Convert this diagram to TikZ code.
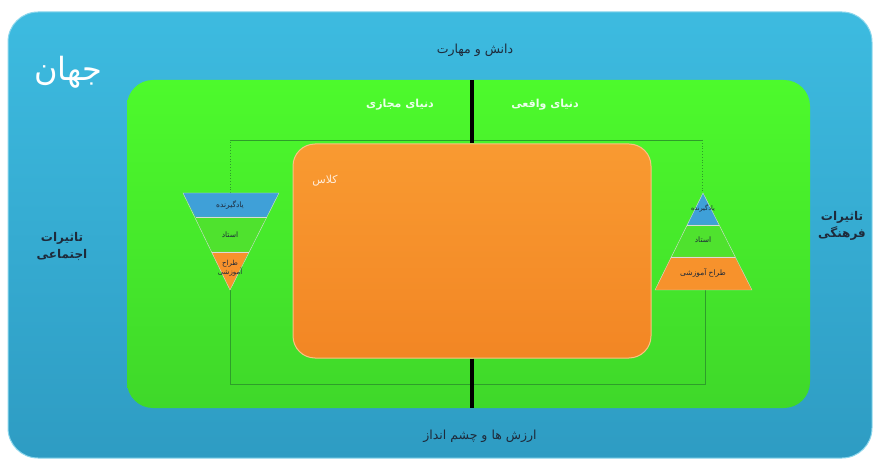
\documentclass[tikz,border=0pt]{standalone}
\usepackage{fontspec}
\newfontfamily\fa[Script=Arabic]{DejaVu Sans}
\TeXXeTstate=1
\definecolor{bluetop}{HTML}{3DBBE0}
\definecolor{bluebot}{HTML}{2E9CC3}
\definecolor{greentop}{HTML}{4DFA2C}
\definecolor{greenbot}{HTML}{3FD82A}
\definecolor{orangetop}{HTML}{F99A31}
\definecolor{orangebot}{HTML}{F28624}
\definecolor{bandblue}{HTML}{3FA0D8}
\definecolor{bandgreen}{HTML}{4FE22E}
\definecolor{bandorange}{HTML}{F7922C}
\definecolor{connc}{HTML}{2E9E2A}
\definecolor{darktext}{HTML}{1E2A3A}
\tikzset{
  panel/.style={rounded corners=#1, draw=none},
  conn/.style={draw=connc, line width=0.8pt},
  divider/.style={line width=4.5pt, black},
  lbl/.style={font=\fa, inner sep=1pt},
  band/.style={draw=white!70!gray, line width=0.4pt},
}
\begin{document}
\begin{tikzpicture}[x=1pt,y=-1pt]
\useasboundingbox (0,0) rectangle (878,462);
\fill[white] (0,0) rectangle (878,462);
% world
\node[panel=30, minimum width=864pt, minimum height=446pt, top color=bluetop, bottom color=bluebot, draw=bluetop!60!white, line width=1pt] (world) at (440,235) {};
% green
\node[panel=26, minimum width=683pt, minimum height=328pt, top color=greentop, bottom color=greenbot] (green) at (468.5,244) {};
% connector loop
\coordinate (lt) at (230,193);
\coordinate (lb) at (230,290);
\coordinate (rt) at (702,193);
\coordinate (rb) at (705,289);
\coordinate (tl) at (230,140);
\coordinate (tr) at (702,140);
\coordinate (bl) at (230,384);
\coordinate (br) at (705,384);
\draw[conn, dotted] (lt) -- (tl);
\draw[conn] (tl) -- (tr);
\draw[conn, dotted] (tr) -- (rt);
\draw[conn] (lb) -- (bl) -- (br) -- (rb);
% orange class
\node[panel=22, minimum width=358pt, minimum height=214pt, top color=orangetop, bottom color=orangebot, draw=orangetop!60!white, line width=1pt] (class) at (472,251) {};
% dividers
\draw[divider] (class.north |- green.north) -- (class.north);
\draw[divider] (class.south) -- (class.south |- green.south);
% left inverted triangle
\fill[bandblue] (183,193) -- (279,193) -- (266.5,217) -- (195.5,217) -- cycle;
\fill[bandgreen] (195.5,217) -- (266.5,217) -- (248.5,252) -- (211.5,252) -- cycle;
\fill[bandorange] (211.5,252) -- (248.5,252) -- (230,290) -- cycle;
\draw[band] (183,193) -- (279,193) -- (230,290) -- cycle;
\draw[band] (195.5,217) -- (266.5,217) (211.5,252) -- (248.5,252);
% right pyramid
\fill[bandblue] (703,193) -- (719,225) -- (687,225) -- cycle;
\fill[bandgreen] (687,225) -- (719,225) -- (735,257) -- (671,257) -- cycle;
\fill[bandorange] (671,257) -- (735,257) -- (752,290) -- (655,290) -- cycle;
\draw[band] (703,193) -- (752,290) -- (655,290) -- cycle;
\draw[band] (687,225) -- (719,225) (671,257) -- (735,257);
% labels
\node[lbl, font=\fa\fontsize{32}{34}\selectfont, text=white] (jahan) at (68,72) {\beginR جهان\endR};
\node[lbl, font=\fa\fontsize{12.5}{14}\selectfont, text=darktext] (skill) at (475,50) {\beginR دانش و مهارت\endR};
\node[lbl, font=\fa\bfseries\fontsize{11}{13}\selectfont, text=white!92!green] (virt) at (400,105) {\beginR دنیای مجازی\endR};
\node[lbl, font=\fa\bfseries\fontsize{11}{13}\selectfont, text=white!92!green] (real) at (545,105) {\beginR دنیای واقعی\endR};
\node[lbl, font=\fa\fontsize{11}{13}\selectfont, text=white!85!orange] (classl) at (325,181) {\beginR کلاس\endR};
\node[lbl, font=\fa\bfseries\fontsize{12}{17}\selectfont, text=darktext, align=center] (social) at (62,246) {\beginR تاثیرات\endR\\\beginR اجتماعی\endR};
\node[lbl, font=\fa\bfseries\fontsize{12}{17}\selectfont, text=darktext, align=center] (culture) at (842,226) {\beginR تاثیرات\endR\\\beginR فرهنگی\endR};
\node[lbl, font=\fa\fontsize{12.5}{14}\selectfont, text=darktext] (values) at (480,436) {\beginR ارزش ها و چشم انداز\endR};
% triangle labels
\node[lbl, font=\fa\fontsize{7.5}{8}\selectfont, text=darktext] (l1) at (230,205) {\beginR یادگیرنده\endR};
\node[lbl, font=\fa\fontsize{7.5}{8}\selectfont, text=darktext] (l2) at (230,235) {\beginR استاد\endR};
\node[lbl, font=\fa\fontsize{7}{9}\selectfont, text=darktext, align=center] (l3) at (230,268) {\beginR طراح\endR\\\beginR آموزشی\endR};
\node[lbl, font=\fa\fontsize{6.5}{7}\selectfont, text=darktext] (r1) at (703,208) {\beginR یادگیرنده\endR};
\node[lbl, font=\fa\fontsize{7.5}{8}\selectfont, text=darktext] (r2) at (703,240) {\beginR استاد\endR};
\node[lbl, font=\fa\fontsize{7.5}{8}\selectfont, text=darktext] (r3) at (703,273) {\beginR طراح آموزشی\endR};
\end{tikzpicture}
\end{document}
